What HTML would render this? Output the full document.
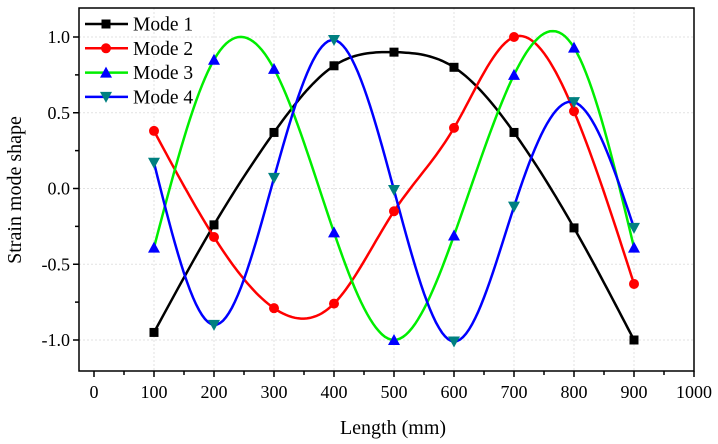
<!DOCTYPE html>
<html><head><meta charset="utf-8"><style>
body{margin:0;background:#fff}
svg{display:block;font-family:"Liberation Serif",serif}
</style></head><body>
<svg id="chart" width="718" height="444">
<g id="grid"></g>
<g id="series"></g>
<rect x="79" y="8" width="615" height="363" fill="none" stroke="#000" stroke-width="1.5"/>
<g id="axes"></g>
<text x="393" y="434" font-size="20" text-anchor="middle">Length (mm)</text>
<text transform="translate(21,190) rotate(-90)" font-size="20" text-anchor="middle">Strain mode shape</text>
<g id="legend"></g>
</svg>
<script>
const xs=[100,200,300,400,500,600,700,800,900];
const mode1=[-0.95,-0.24,0.37,0.81,0.90,0.80,0.37,-0.26,-1.0];
const mode2=[0.38,-0.32,-0.79,-0.76,-0.15,0.40,1.0,0.51,-0.63];
const mode3=[-0.39,0.85,0.79,-0.29,-1.0,-0.31,0.75,0.93,-0.39];
const mode4=[0.17,-0.90,0.07,0.98,-0.01,-1.01,-0.12,0.57,-0.26];
const xTicks=[0,100,200,300,400,500,600,700,800,900,1000];
const yTicks=[1.0,0.5,0.0,-0.5,-1.0];
const yTickLabels=["1.0","0.5","0.0","-0.5","-1.0"];
const seriesNames=["Mode 1","Mode 2","Mode 3","Mode 4"];

const X=v=>94+v*0.6;
const Y=v=>188.5-v*151.5;
const NS="http://www.w3.org/2000/svg";
function mk(tag,attrs,parent){const e=document.createElementNS(NS,tag);for(const k in attrs)e.setAttribute(k,attrs[k]);parent.appendChild(e);return e;}
const grid=document.getElementById('grid'),axes=document.getElementById('axes'),ser=document.getElementById('series'),leg=document.getElementById('legend');

xTicks.forEach(t=>{
  if(t>0&&t<1000){const g=mk('line',{x1:X(t),x2:X(t),y1:8,y2:371,stroke:'#e2e2e2','stroke-dasharray':'2,2'},grid);
  }
  const tk=mk('line',{x1:X(t),x2:X(t),y1:371,y2:377,stroke:'#000','stroke-width':1.5},axes);
  
  const l=mk('text',{x:X(t),y:398,'font-size':18,'text-anchor':'middle'},axes);l.textContent=t;
  
  if(t<1000){const m=mk('line',{x1:X(t+50),x2:X(t+50),y1:371,y2:375,stroke:'#000','stroke-width':1.5},axes);
  }
});
yTicks.forEach((t,i)=>{
  const g=mk('line',{x1:79,x2:694,y1:Y(t),y2:Y(t),stroke:'#e2e2e2','stroke-dasharray':'2,2'},grid);
  
  const tk=mk('line',{x1:73,x2:79,y1:Y(t),y2:Y(t),stroke:'#000','stroke-width':1.5},axes);
  
  const l=mk('text',{x:70,y:Y(t)+6,'font-size':18,'text-anchor':'end'},axes);l.textContent=yTickLabels[i];
  
  if(t>-1){const m=mk('line',{x1:75,x2:79,y1:Y(t-0.25),y2:Y(t-0.25),stroke:'#000','stroke-width':1.5},axes);
  }
});

function spline(x,y){const n=x.length,h=[],a=[],l=[1],mu=[0],z=[0],c=new Array(n).fill(0),b=[],d=[];
  for(let i=0;i<n-1;i++)h[i]=x[i+1]-x[i];
  for(let i=1;i<n-1;i++)a[i]=3/h[i]*(y[i+1]-y[i])-3/h[i-1]*(y[i]-y[i-1]);
  for(let i=1;i<n-1;i++){l[i]=2*(x[i+1]-x[i-1])-h[i-1]*mu[i-1];mu[i]=h[i]/l[i];z[i]=(a[i]-h[i-1]*z[i-1])/l[i];}
  for(let j=n-2;j>=0;j--){c[j]=(j<n-1&&j>0?z[j]-mu[j]*c[j+1]:0);b[j]=(y[j+1]-y[j])/h[j]-h[j]*(c[j+1]+2*c[j])/3;d[j]=(c[j+1]-c[j])/(3*h[j]);}
  const pts=[];for(let i=0;i<n-1;i++)for(let s=0;s<20;s++){const t=s/20*h[i];pts.push([x[i]+t,y[i]+b[i]*t+c[i]*t*t+d[i]*t*t*t]);}
  pts.push([x[n-1],y[n-1]]);return pts;}

function marker(type,cx,cy,color,parent){
  let e;
  if(type==='sq')e=mk('rect',{x:cx-4.5,y:cy-4.5,width:9,height:9,fill:color},parent);
  else if(type==='ci')e=mk('circle',{cx:cx,cy:cy,r:5,fill:color},parent);
  else if(type==='up')e=mk('polygon',{points:`${cx},${cy-6} ${cx-6},${cy+5} ${cx+6},${cy+5}`,fill:color},parent);
  else e=mk('polygon',{points:`${cx},${cy+6} ${cx-6},${cy-5} ${cx+6},${cy-5}`,fill:color},parent);
  return e;}

const defs=[[mode1,'#000','#000','sq'],[mode2,'#ff0000','#ff0000','ci'],[mode3,'#00ee00','#0000ff','up'],[mode4,'#0000ff','#008080','dn']];
defs.forEach((s,k)=>{
  const pts=spline(xs,s[0]);
  const p=mk('path',{d:'M'+pts.map(q=>X(q[0]).toFixed(1)+','+Y(q[1]).toFixed(1)).join('L'),fill:'none',stroke:s[1],'stroke-width':2.5},ser);
  
});
defs.forEach((s,k)=>{
  s[0].forEach((v,i)=>{const m=marker(s[3],X(xs[i]),Y(v),s[2],ser);
    });
  const ly=24+k*24.3;
  const ll=mk('line',{x1:85,x2:128,y1:ly,y2:ly,stroke:s[1],'stroke-width':2.5},leg);
  
  const lm=marker(s[3],106,ly,s[2],leg);
  
  const lt=mk('text',{x:133,y:ly+6.5,'font-size':19.5},leg);lt.textContent=seriesNames[k];
  
});
</script>
</body></html>
